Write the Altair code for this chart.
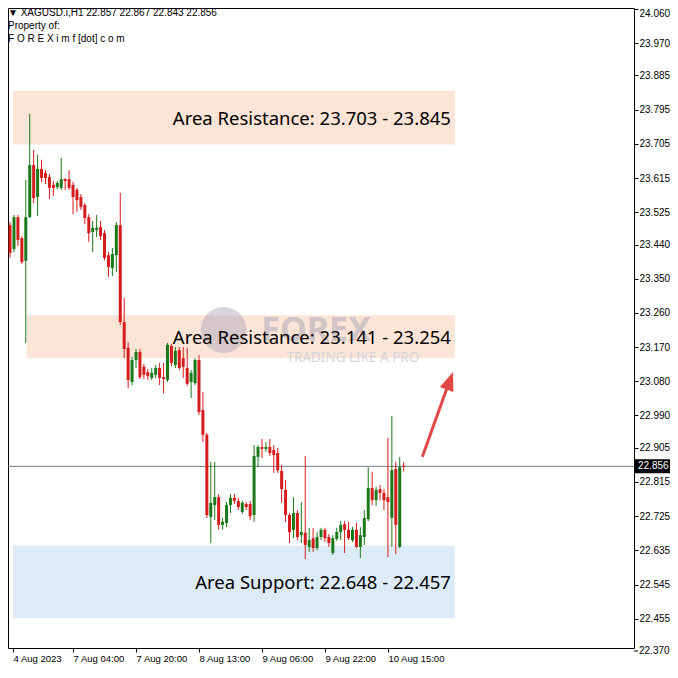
import altair as alt
import pandas as pd
import numpy as np

# ---------------- data (XAGUSD.i, H1) ----------------
opens = [23.491, 23.428, 23.512, 23.457, 23.397, 23.512, 23.649, 23.565, 23.639, 23.628,
         23.618, 23.597, 23.591, 23.589, 23.612, 23.612, 23.597, 23.584, 23.565, 23.544,
         23.512, 23.473, 23.478, 23.486, 23.470, 23.412, 23.378, 23.412, 23.491, 23.236,
         23.168, 23.078, 23.136, 23.157, 23.118, 23.104, 23.089, 23.097, 23.115, 23.091,
         23.083, 23.173, 23.123, 23.162, 23.141, 23.115, 23.078, 23.075, 23.136, 23.004,
         22.939, 22.723, 22.754, 22.775, 22.702, 22.707, 22.754, 22.773, 22.765, 22.736,
         22.757, 22.757, 22.728, 22.881, 22.907, 22.902, 22.907, 22.899, 22.891, 22.844,
         22.794, 22.728, 22.689, 22.733, 22.675, 22.681, 22.644, 22.667, 22.641, 22.670,
         22.689, 22.670, 22.628, 22.665, 22.683, 22.704, 22.689, 22.662, 22.689, 22.644,
         22.670, 22.717, 22.799, 22.767, 22.796, 22.786, 22.775, 22.720, 22.849, 22.644,
         22.857]
highs = [23.499, 23.518, 23.518, 23.462, 23.610, 23.784, 23.689, 23.676, 23.663, 23.636,
         23.626, 23.607, 23.607, 23.668, 23.615, 23.636, 23.605, 23.589, 23.573, 23.549,
         23.520, 23.502, 23.518, 23.502, 23.478, 23.420, 23.431, 23.499, 23.576, 23.299,
         23.183, 23.144, 23.165, 23.165, 23.126, 23.112, 23.115, 23.123, 23.128, 23.128,
         23.181, 23.178, 23.170, 23.170, 23.170, 23.168, 23.110, 23.141, 23.149, 23.052,
         22.944, 22.868, 22.868, 22.783, 22.720, 22.762, 22.783, 22.783, 22.773, 22.765,
         22.762, 22.765, 22.912, 22.912, 22.928, 22.920, 22.928, 22.912, 22.904, 22.860,
         22.820, 22.733, 22.775, 22.741, 22.762, 22.883, 22.694, 22.694, 22.683, 22.694,
         22.694, 22.678, 22.675, 22.694, 22.712, 22.712, 22.710, 22.696, 22.707, 22.696,
         22.741, 22.854, 22.841, 22.802, 22.807, 22.796, 22.931, 22.989, 22.868, 22.881,
         22.867]
lows = [23.405, 23.420, 23.436, 23.389, 23.181, 23.510, 23.549, 23.515, 23.605, 23.599,
        23.560, 23.568, 23.586, 23.584, 23.584, 23.584, 23.520, 23.526, 23.531, 23.494,
        23.447, 23.420, 23.460, 23.452, 23.399, 23.355, 23.357, 23.368, 23.228, 23.141,
        23.062, 23.070, 23.115, 23.086, 23.086, 23.083, 23.083, 23.089, 23.070, 23.049,
        23.078, 23.120, 23.115, 23.110, 23.089, 23.068, 23.036, 23.070, 22.991, 22.920,
        22.720, 22.654, 22.715, 22.689, 22.689, 22.696, 22.733, 22.757, 22.741, 22.731,
        22.741, 22.715, 22.710, 22.854, 22.878, 22.894, 22.883, 22.839, 22.839, 22.760,
        22.710, 22.654, 22.667, 22.662, 22.654, 22.612, 22.631, 22.631, 22.636, 22.662,
        22.657, 22.644, 22.623, 22.660, 22.662, 22.628, 22.662, 22.657, 22.641, 22.615,
        22.649, 22.712, 22.754, 22.752, 22.767, 22.741, 22.617, 22.644, 22.625, 22.641,
        22.843]
closes = [23.418, 23.512, 23.452, 23.394, 23.512, 23.649, 23.562, 23.639, 23.615, 23.615,
          23.589, 23.589, 23.602, 23.612, 23.607, 23.589, 23.565, 23.557, 23.539, 23.510,
          23.470, 23.484, 23.484, 23.462, 23.405, 23.381, 23.415, 23.491, 23.236, 23.165,
          23.083, 23.136, 23.157, 23.091, 23.097, 23.094, 23.102, 23.115, 23.089, 23.086,
          23.176, 23.128, 23.160, 23.115, 23.118, 23.073, 23.102, 23.136, 22.999, 22.939,
          22.728, 22.760, 22.775, 22.702, 22.710, 22.754, 22.773, 22.765, 22.749, 22.760,
          22.749, 22.725, 22.883, 22.907, 22.902, 22.907, 22.891, 22.886, 22.846, 22.796,
          22.728, 22.683, 22.733, 22.670, 22.683, 22.649, 22.662, 22.641, 22.670, 22.689,
          22.667, 22.654, 22.667, 22.683, 22.702, 22.689, 22.667, 22.689, 22.644, 22.675,
          22.720, 22.799, 22.767, 22.794, 22.786, 22.767, 22.762, 22.846, 22.702, 22.854,
          22.856]

x_tick_index = [0, 16, 32, 48, 64, 80, 96]
x_tick_labels = ["4 Aug 2023", "7 Aug 04:00", "7 Aug 20:00", "8 Aug 13:00",
                 "9 Aug 06:00", "9 Aug 22:00", "10 Aug 15:00"]
y_ticks = [24.060, 23.970, 23.885, 23.795, 23.705, 23.615, 23.525, 23.440, 23.350, 23.260,
           23.170, 23.080, 22.990, 22.905, 22.815, 22.725, 22.635, 22.545, 22.455, 22.370]

zone_low = [23.703, 23.141, 22.457]
zone_high = [23.845, 23.254, 22.648]
zone_start = [None, 4.25, None]          # None = from the left edge
zone_end = 113
zone_text_end = 112
zone_labels = ["Area Resistance: 23.703 - 23.845",
               "Area Resistance: 23.141 - 23.254",
               "Area Support: 22.648 - 22.457"]
zone_kind = ["res", "res", "sup"]

last_price = 22.856
header = ["\u25BC XAGUSD.i,H1  22.857 22.867 22.843 22.856", "Property of:",
          "F O R E X i m f [dot] c o m"]

# arrow (bar index, price)
arrow_start = (104.75, 22.881)
arrow_end = (111.1, 23.065)
arrow_head = (111.5, 23.0747)

# ---------------- styling ----------------
GREEN = "#1a7a1a"
RED = "#d41c1c"
PEACH = "#fce4d6"
BLUE = "#ddebf7"
W, H = 626, 640
PPX = 0.0026324                      # price per pixel
Y_TOP = 24.0626
X_DOM = [0.75, 157.25]
Y_DOM = [Y_TOP - H * PPX, Y_TOP]
FONT = "Liberation Sans"

xs = alt.Scale(domain=X_DOM, nice=False, zero=False)
ys = alt.Scale(domain=Y_DOM, nice=False, zero=False)
cscale = alt.Scale(domain=["up", "down"], range=[GREEN, RED])

tick_pos = [max(v, X_DOM[0]) for v in x_tick_index]
expr = "''"
for p, lab in reversed(list(zip(tick_pos, x_tick_labels))):
    expr = f"(abs(datum.value - {p}) < 0.5 ? '{lab}' : {expr})"

y_in = [v for v in y_ticks if Y_DOM[0] <= v <= Y_DOM[1]]
y_out = [v for v in y_ticks if not (Y_DOM[0] <= v <= Y_DOM[1])]

x_axis = alt.Axis(values=tick_pos, labelExpr=expr, tickSize=4, labelAlign="left",
                  labelBaseline="top", labelPadding=1, domain=False, grid=False,
                  title=None, labelFontSize=9.5, labelFont=FONT, labelColor="black",
                  tickColor="black", labelFlush=False, labelOverlap=False)
y_axis = alt.Axis(values=y_in, format=".3f", orient="right", tickSize=4,
                  labelPadding=1, domain=False, grid=False, title=None,
                  labelFontSize=10, labelFont=FONT, labelColor="black",
                  labelBaseline={"condition": {"test": "datum.value > 24.05", "value": "top"},
                                 "value": "middle"},
                  tickColor="black", labelOverlap=False, labelFlush=False)


def X(field):
    return alt.X(field, scale=xs, axis=x_axis)


def Y(field):
    return alt.Y(field, scale=ys, axis=y_axis)


df = pd.DataFrame({"i": list(range(len(opens))), "open": opens, "high": highs,
                   "low": lows, "close": closes})
df["dir"] = np.where(df["close"] >= df["open"], "up", "down")
mid = (df["open"] + df["close"]) / 2
half = np.maximum((df["open"] - df["close"]).abs() / 2, PPX / 2)
df["top"] = mid + half
df["bot"] = mid - half

zones = pd.DataFrame({
    "x0": [s if s is not None else X_DOM[0] for s in zone_start],
    "x1": [zone_end] * 3,
    "lo": zone_low, "hi": zone_high,
    "mid": [(a + b) / 2 for a, b in zip(zone_low, zone_high)],
    "xt": [zone_text_end] * 3,
    "label": zone_labels, "kind": zone_kind})

bands = alt.Chart(zones).mark_rect(clip=True).encode(
    x=X("x0:Q"), x2="x1:Q", y=Y("lo:Q"), y2="hi:Q",
    fill=alt.Fill("kind:N", scale=alt.Scale(domain=["res", "sup"], range=[PEACH, BLUE]),
                  legend=None))

# watermark
wm = pd.DataFrame({"x": [54.25], "y": [23.215]})
wm_circle = alt.Chart(wm).mark_point(filled=True, shape="circle", size=2100,
                                     color="#9c9cb6", opacity=0.4).encode(
    x=X("x:Q"), y=Y("y:Q"))
wm_t = pd.DataFrame({"x": [77.75, 87.1], "y": [23.213, 23.1417],
                     "t": ["FOREX", "TRADING LIKE A PRO"]})
wm_text1 = alt.Chart(wm_t.iloc[[0]]).mark_text(font="Noto Sans", fontWeight="bold",
                                               fontSize=34, color="#a5a5ba", opacity=0.5,
                                               align="center", baseline="middle").encode(
    x=X("x:Q"), y=Y("y:Q"), text="t:N")
wm_text2 = alt.Chart(wm_t.iloc[[1]]).mark_text(font="Noto Sans", fontSize=13.5,
                                               color="#d4d4dc", align="center",
                                               baseline="middle").encode(
    x=X("x:Q"), y=Y("y:Q"), text="t:N")

price_df = pd.DataFrame({"p": [last_price], "lo": [last_price - 7 * PPX],
                         "hi": [last_price + 7 * PPX], "t": [f"{last_price:.3f}"]})
price_line = alt.Chart(price_df).mark_rule(color="#6f7c89", strokeWidth=1).encode(
    y=Y("p:Q"))

wicks = alt.Chart(df).mark_rule(strokeWidth=1, clip=True).encode(
    x=X("i:Q"), y=Y("low:Q"), y2="high:Q",
    color=alt.Color("dir:N", scale=cscale, legend=None))
bodies = alt.Chart(df).mark_bar(size=3, clip=True).encode(
    x=X("i:Q"), y=Y("top:Q"), y2="bot:Q",
    color=alt.Color("dir:N", scale=cscale, legend=None))

zone_text = alt.Chart(zones).mark_text(align="right", baseline="middle", fontSize=18.5,
                                       font="Noto Sans", color="black", dy=1).encode(
    x=X("xt:Q"), y=Y("mid:Q"), text="label:N")

arrow_df = pd.DataFrame({"x0": [arrow_start[0]], "y0": [arrow_start[1]],
                         "x1": [arrow_end[0]], "y1": [arrow_end[1]],
                         "hx": [arrow_head[0]], "hy": [arrow_head[1]]})
arrow_line = alt.Chart(arrow_df).mark_rule(color="#e04848", strokeWidth=3).encode(
    x=X("x0:Q"), y=Y("y0:Q"), x2="x1:Q", y2="y1:Q")
arrow_tip = alt.Chart(arrow_df).mark_point(filled=True, shape="M0,-1L0.6,0.55L-0.6,0.55Z",
                                           size=576, angle=20, color="#e04848",
                                           opacity=1).encode(
    x=X("hx:Q"), y=Y("hy:Q"))

price_box = alt.Chart(price_df).mark_rect(color="black").encode(
    x=alt.value(627), x2=alt.value(662), y=Y("lo:Q"), y2="hi:Q")
price_txt = alt.Chart(price_df).mark_text(align="left", baseline="middle", color="white",
                                          fontSize=10, font=FONT).encode(
    x=alt.value(630), y=Y("p:Q"), text="t:N")

# price-scale labels just below the drawn frame
out_df = pd.DataFrame({"v": y_out, "t": [f"{v:.3f}" for v in y_out]})
out_ticks = alt.Chart(out_df).mark_rule(color="black", strokeWidth=1).encode(
    x=alt.value(W), x2=alt.value(W + 4), y=Y("v:Q"))
out_labels = alt.Chart(out_df).mark_text(align="left", baseline="middle", fontSize=10,
                                         font=FONT, color="black").encode(
    x=alt.value(W + 5), y=Y("v:Q"), text="t:N")

hdr_layers = []
for k, line in enumerate(header):
    hdr_layers.append(
        alt.Chart(price_df).mark_text(align="left", baseline="middle", fontSize=10,
                                      font=FONT, color="black", text=line).encode(
            x=alt.value(0), y=alt.value(5 + 13 * k)))

chart = alt.layer(
    bands, wm_circle, wm_text1, wm_text2, price_line, wicks, bodies, zone_text,
    arrow_line, arrow_tip, price_box, price_txt, out_ticks, out_labels, *hdr_layers
).resolve_scale(color="independent").properties(
    width=W, height=H, background="white",
    padding={"left": 0, "top": 0, "right": 36, "bottom": 16},
    autosize=alt.AutoSizeParams(type="none")
).configure_view(stroke="black", strokeWidth=1)

chart.save("out.html", embed_options={"renderer": "svg", "actions": False})
